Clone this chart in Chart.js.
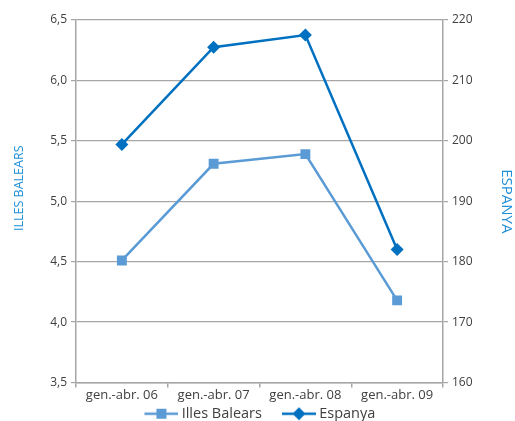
<!DOCTYPE html>
<html>
<head>
<meta charset="utf-8">
<script src="https://cdn.jsdelivr.net/npm/chart.js@4"></script>
<style>
    html, body { margin: 0; padding: 0; background: #ffffff; }
    #grafico-wrap { width: 515px; height: 421px; }
</style>
</head>
<body>
<div id="grafico-wrap"><canvas id="grafico"></canvas></div>
<script>
const categorias = ['gen.-abr. 06', 'gen.-abr. 07', 'gen.-abr. 08', 'gen.-abr. 09'];
const valoresBalears = [4.51, 5.31, 5.39, 4.18];
const valoresEspanya = [199.4, 215.5, 217.5, 182.0];
const ticksEsquerra = [3.5, 4.0, 4.5, 5.0, 5.5, 6.0, 6.5];
const ticksDreta = [160, 170, 180, 190, 200, 210, 220];

const corBalears = '#5b9bd5';
const corEspanya = '#0070c0';
const corEix = '#a6a6a6';
const corText = '#404040';
const corTitol = '#1f8fd6';
const font = 'Open Sans';

// icona de llegenda: espai buit a l'esquerra, linia i el marcador al mig
function crearIcona(cor, forma) {
    const c = document.createElement('canvas');
    c.width = 54;
    c.height = 14;
    const ctx = c.getContext('2d');
    const x0 = 20;
    const cx = x0 + 17;
    ctx.strokeStyle = cor;
    ctx.lineWidth = 2.5;
    ctx.beginPath();
    ctx.moveTo(x0, 7);
    ctx.lineTo(54, 7);
    ctx.stroke();
    ctx.fillStyle = cor;
    if (forma === 'rect') {
        ctx.fillRect(cx - 5, 2, 10, 10);
    } else {
        ctx.beginPath();
        ctx.moveTo(cx, 0.5);
        ctx.lineTo(cx + 6.5, 7);
        ctx.lineTo(cx, 13.5);
        ctx.lineTo(cx - 6.5, 7);
        ctx.closePath();
        ctx.fill();
    }
    return c;
}

const iconaBalears = crearIcona(corBalears, 'rect');
const iconaEspanya = crearIcona(corEspanya, 'rectRot');

new Chart(document.getElementById('grafico'), {
    type: 'line',
    data: {
        labels: categorias,
        datasets: [{
            label: 'Illes Balears',
            data: valoresBalears,
            yAxisID: 'y',
            borderColor: corBalears,
            backgroundColor: corBalears,
            borderWidth: 2.5,
            pointStyle: 'rect',
            pointRadius: 7,
            pointHoverRadius: 7,
            pointBorderWidth: 0,
            tension: 0
        }, {
            label: 'Espanya',
            data: valoresEspanya,
            yAxisID: 'y1',
            borderColor: corEspanya,
            backgroundColor: corEspanya,
            borderWidth: 2.5,
            pointStyle: 'rectRot',
            pointRadius: 6.5,
            pointHoverRadius: 6.5,
            pointBorderWidth: 0,
            tension: 0
        }]
    },
    options: {
        responsive: true,
        maintainAspectRatio: false,
        animation: false,
        layout: {
            padding: { top: 20, right: 0, bottom: -10, left: 0 }
        },
        plugins: {
            tooltip: { enabled: false },
            legend: {
                position: 'bottom',
                labels: {
                    color: corText,
                    font: { family: font, size: 14.5 },
                    usePointStyle: true,
                    pointStyleWidth: 46,
                    boxHeight: 14,
                    padding: 4,
                    generateLabels(chart) {
                        return chart.data.datasets.map((ds, i) => ({
                            // l'ultim element porta espais per centrar la fila com a l'original
                            text: i === 0 ? ds.label : ds.label + '   ',
                            pointStyle: i === 0 ? iconaBalears : iconaEspanya,
                            fillStyle: ds.borderColor,
                            strokeStyle: ds.borderColor,
                            lineWidth: 0,
                            fontColor: corText,
                            datasetIndex: i
                        }));
                    }
                }
            }
        },
        scales: {
            x: {
                offset: true,
                border: { color: corEix, width: 1.5 },
                grid: {
                    offset: true,
                    drawOnChartArea: false,
                    color: corEix,
                    tickLength: 5,
                    lineWidth: 1.5
                },
                ticks: {
                    color: corText,
                    font: { family: font, size: 13 },
                    padding: 0,
                    maxRotation: 0
                },
                afterFit(scale) { scale.height = 20; }
            },
            y: {
                position: 'left',
                min: 3.5,
                max: 6.5,
                afterBuildTicks(scale) { scale.ticks = ticksEsquerra.map(v => ({ value: v })); },
                border: { color: corEix, width: 1.5 },
                grid: { color: corEix, lineWidth: 1.2, tickLength: 5 },
                ticks: {
                    color: corText,
                    font: { family: font, size: 12 },
                    padding: 4,
                    callback(valor) { return valor.toFixed(1).replace('.', ','); }
                },
                title: {
                    display: true,
                    // espais al davant per pujar el text com a l'original
                    text: '        ILLES BALEARS',
                    color: corTitol,
                    font: { family: font, size: 12.5 },
                    padding: { top: 12, bottom: 0 }
                },
                afterFit(scale) { scale.width = 76; }
            },
            y1: {
                position: 'right',
                min: 160,
                max: 220,
                afterBuildTicks(scale) { scale.ticks = ticksDreta.map(v => ({ value: v })); },
                border: { color: corEix, width: 1.5 },
                grid: { drawOnChartArea: false, color: corEix, lineWidth: 1.2, tickLength: 5 },
                ticks: {
                    color: corText,
                    font: { family: font, size: 12 },
                    padding: 4
                },
                title: {
                    display: true,
                    text: 'ESPANYA',
                    color: corTitol,
                    font: { family: font, size: 15 },
                    padding: { top: 0, bottom: 2 }
                },
                afterFit(scale) { scale.width = 72; }
            }
        }
    }
});
</script>
</body>
</html>
